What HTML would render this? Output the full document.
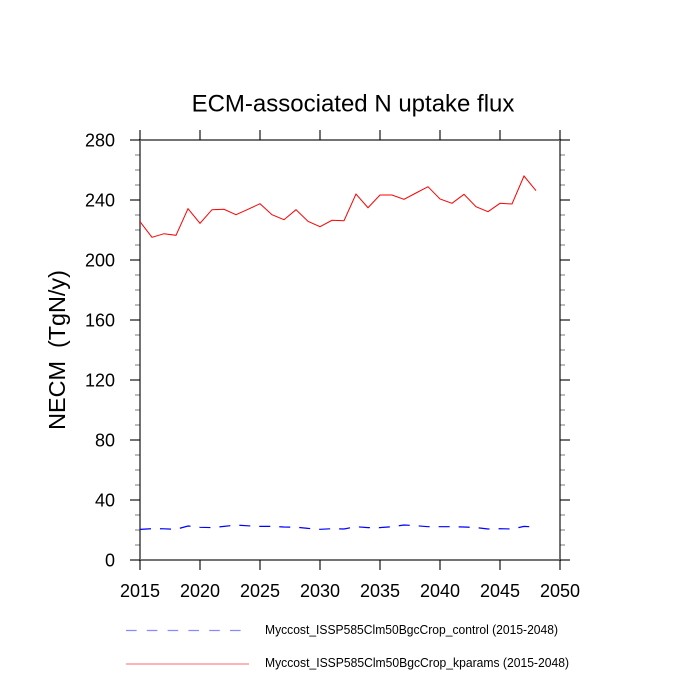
<!DOCTYPE html>
<html>
<head>
<meta charset="utf-8">
<style>
html,body{margin:0;padding:0;background:#fff;}
svg{display:block;}
text{font-family:"Liberation Sans",Arial,sans-serif;fill:#000;}
</style>
</head>
<body>
<svg width="700" height="700" viewBox="0 0 700 700" xmlns="http://www.w3.org/2000/svg">
<rect width="700" height="700" fill="#fff"/>

<!-- Title -->
<text x="353" y="111.5" font-size="24" text-anchor="middle">ECM-associated N uptake flux</text>

<!-- Y axis label -->
<text transform="translate(65,350) rotate(-90)" font-size="23.4" text-anchor="middle" style="white-space:pre">NECM  (TgN/y)</text>

<!-- minor y ticks -->
<g stroke="#000" stroke-opacity="0.35" stroke-width="1.5">
<path d="M135 545H140M135 530H140M135 515H140M135 485H140M135 470H140M135 455H140M135 425H140M135 410H140M135 395H140M135 365H140M135 350H140M135 335H140M135 305H140M135 290H140M135 275H140M135 245H140M135 230H140M135 215H140M135 185H140M135 170H140M135 155H140"/>
<path d="M560 545H565M560 530H565M560 515H565M560 485H565M560 470H565M560 455H565M560 425H565M560 410H565M560 395H565M560 365H565M560 350H565M560 335H565M560 305H565M560 290H565M560 275H565M560 245H565M560 230H565M560 215H565M560 185H565M560 170H565M560 155H565"/>
</g>

<!-- frame and major ticks -->
<g stroke="#000" stroke-opacity="0.55" stroke-width="2" fill="none">
<rect x="140" y="140" width="420" height="420"/>
<path d="M130 560H140M130 500H140M130 440H140M130 380H140M130 320H140M130 260H140M130 200H140M130 140H140"/>
<path d="M560 560H570M560 500H570M560 440H570M560 380H570M560 320H570M560 260H570M560 200H570M560 140H570"/>
<path d="M140 560V570M200 560V570M260 560V570M320 560V570M380 560V570M440 560V570M500 560V570M560 560V570"/>
<path d="M140 130V140M200 130V140M260 130V140M320 130V140M380 130V140M440 130V140M500 130V140M560 130V140"/>
</g>

<!-- Y tick labels -->
<g font-size="18" text-anchor="end">
<text x="115" y="566.5">0</text>
<text x="115" y="506.5">40</text>
<text x="115" y="446.5">80</text>
<text x="115" y="386.5">120</text>
<text x="115" y="326.5">160</text>
<text x="115" y="266.5">200</text>
<text x="115" y="206.5">240</text>
<text x="115" y="146.5">280</text>
</g>

<!-- X tick labels -->
<g font-size="18" text-anchor="middle">
<text x="140" y="597">2015</text>
<text x="200" y="597">2020</text>
<text x="260" y="597">2025</text>
<text x="320" y="597">2030</text>
<text x="380" y="597">2035</text>
<text x="440" y="597">2040</text>
<text x="500" y="597">2045</text>
<text x="560" y="597">2050</text>
</g>

<!-- Red series -->
<polyline fill="none" stroke="#ff0000" stroke-width="1" points="140,221.7 152,237.3 164,233.7 176,235.3 188,208.7 200,223.3 212,209.7 224,209.3 236,214.7 248,209.3 260,203.7 272,214.7 284,219.7 296,209.7 308,221.3 320,226.7 332,220.3 344,220.7 356,194 368,207.7 380,195 392,195 404,199.3 416,193 428,186.7 440,199 452,203.3 464,194.3 476,206.7 488,211.7 500,203.3 512,204 524,176 536,190.7"/>

<!-- Blue series -->
<polyline fill="none" stroke="#0000ff" stroke-width="1.2" stroke-dasharray="11 9" points="140,529.4 152,528.7 164,528.8 176,529.3 188,526 200,527.3 212,527.6 224,526.4 236,525 248,525.8 260,526.4 272,526.4 284,527 296,527.2 308,528.4 320,529.3 332,528.7 344,529 356,526.7 368,527.6 380,527.6 392,526.7 404,525 416,525.7 428,526.7 440,526.7 452,526.7 464,527 476,527.6 488,529 500,528.7 512,529 524,526.4 536,527"/>

<!-- Legend -->
<line x1="126" y1="630.5" x2="241" y2="630.5" stroke="#8888ff" stroke-width="1.3" stroke-dasharray="10.6 10.2"/>
<line x1="126" y1="664" x2="249" y2="664" stroke="#ff8888" stroke-width="1.3"/>
<text x="265" y="634" font-size="13" textLength="293" lengthAdjust="spacingAndGlyphs">Myccost_ISSP585Clm50BgcCrop_control (2015-2048)</text>
<text x="265" y="667" font-size="13" textLength="304" lengthAdjust="spacingAndGlyphs">Myccost_ISSP585Clm50BgcCrop_kparams (2015-2048)</text>
</svg>
</body>
</html>
